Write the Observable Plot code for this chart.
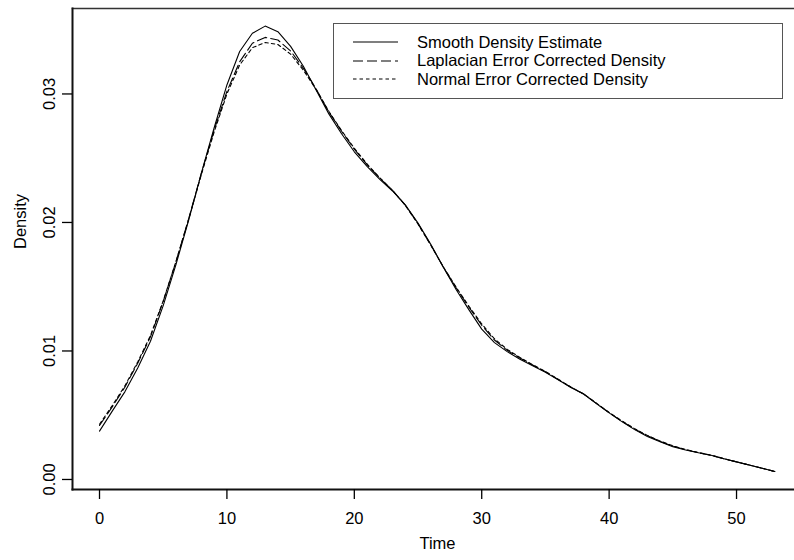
<!DOCTYPE html>
<html><head><meta charset="utf-8">
<script src="https://cdn.jsdelivr.net/npm/d3@7"></script>
<script src="https://cdn.jsdelivr.net/npm/@observablehq/plot@0.6"></script>
<style>
body{margin:0;background:#fff;}
#wrap{position:relative;width:794px;height:560px;overflow:hidden;font-family:"Liberation Sans",Arial,sans-serif;}
#legend{position:absolute;left:333px;top:23px;width:450px;height:76px;box-sizing:border-box;border:1.5px solid #555;padding:9px 0 0 19px;font-size:16.5px;color:#000;background:#fff;}
.row{display:flex;align-items:center;height:18.5px;white-space:nowrap;}
.row svg{margin-right:19px;flex:none;}
</style></head>
<body><div id="wrap"></div>
<script>
const time = [0,1,2,3,4,5,6,7,8,9,10,11,12,13,14,15,16,17,18,19,20,21,22,23,24,25,26,27,28,29,30,31,32,33,34,35,36,37,38,39,40,41,42,43,44,45,46,47,48,49,50,51,52,53];
const smooth = [0.00376,0.00532,0.00684,0.00868,0.01076,0.01353,0.01672,0.02019,0.02386,0.02737,0.03070,0.03330,0.03472,0.03528,0.03485,0.03370,0.03215,0.03030,0.02845,0.02690,0.02550,0.02436,0.02335,0.02245,0.02137,0.01995,0.01830,0.01650,0.01477,0.01320,0.01170,0.01065,0.00995,0.00935,0.00885,0.00835,0.00775,0.00715,0.00665,0.00590,0.00518,0.00450,0.00388,0.00335,0.00293,0.00255,0.00230,0.00208,0.00188,0.00162,0.00137,0.00112,0.00088,0.00062];
const laplacian = [0.00420,0.00565,0.00720,0.00905,0.01110,0.01385,0.01695,0.02030,0.02385,0.02720,0.03020,0.03250,0.03395,0.03440,0.03420,0.03335,0.03200,0.03040,0.02860,0.02710,0.02570,0.02450,0.02345,0.02250,0.02135,0.01990,0.01825,0.01650,0.01490,0.01340,0.01200,0.01085,0.01005,0.00945,0.00890,0.00838,0.00778,0.00718,0.00665,0.00592,0.00520,0.00453,0.00392,0.00340,0.00297,0.00260,0.00232,0.00209,0.00188,0.00162,0.00137,0.00112,0.00088,0.00062];
const normal = [0.00430,0.00575,0.00730,0.00915,0.01120,0.01390,0.01695,0.02025,0.02375,0.02705,0.03000,0.03225,0.03360,0.03400,0.03385,0.03310,0.03185,0.03035,0.02865,0.02715,0.02578,0.02455,0.02348,0.02250,0.02133,0.01988,0.01823,0.01652,0.01495,0.01348,0.01210,0.01095,0.01012,0.00950,0.00893,0.00840,0.00780,0.00720,0.00665,0.00594,0.00522,0.00456,0.00395,0.00343,0.00299,0.00262,0.00234,0.00210,0.00189,0.00163,0.00137,0.00112,0.00088,0.00062];
const seriesNames = ["Smooth Density Estimate","Laplacian Error Corrected Density","Normal Error Corrected Density"];
const seriesDash = [null,"10,4","3.5,3"];
const xTicks = [0,10,20,30,40,50];
const yTicks = [0,0.01,0.02,0.03];

const toRows = vals => time.map((t,i)=>({t, d: vals[i]}));
const allSeries = [smooth, laplacian, normal];

const chart = Plot.plot({
  width:794, height:560,
  marginLeft:72, marginRight:0, marginTop:8, marginBottom:71,
  x:{domain:[-2.12,54.55]},
  y:{domain:[-0.00078,0.03665]},
  style:{fontFamily:'"Liberation Sans",Arial,sans-serif', fontSize:"16.5px", background:"white", color:"black"},
  marks:[
    Plot.frame({anchor:"top", stroke:"#333", strokeWidth:1.5}),
    Plot.frame({anchor:"left", stroke:"#111", strokeWidth:2}),
    Plot.frame({anchor:"bottom", stroke:"#111", strokeWidth:2}),
    Plot.axisX({ticks:xTicks, tickSize:10, tickPadding:13, label:null, strokeWidth:1.3}),
    Plot.axisY({ticks:yTicks, tickFormat:d=>d.toFixed(2), tickSize:10, tickRotate:-90, tickPadding:8, label:null, strokeWidth:1.3}),
    ...allSeries.map((vals,i)=>Plot.line(toRows(vals),{x:"t", y:"d", stroke:"black", strokeWidth:1.1, strokeDasharray:seriesDash[i] ?? undefined})),
    Plot.text(["Density"],{frameAnchor:"left", dx:-52, rotate:-90}),
    Plot.text(["Time"],{frameAnchor:"bottom", dx:4, dy:59})
  ]
});
const wrap = document.getElementById("wrap");
wrap.appendChild(chart);

const legend = document.createElement("div");
legend.id = "legend";
seriesNames.forEach((name,i)=>{
  const row = document.createElement("div");
  row.className = "row";
  const dash = seriesDash[i] ? ` stroke-dasharray="${seriesDash[i]}"` : "";
  row.innerHTML = `<svg width="45" height="10"><line x1="0" y1="5" x2="45" y2="5" stroke="black" stroke-width="1.1"${dash}/></svg><span>${name}</span>`;
  legend.appendChild(row);
});
wrap.appendChild(legend);
</script>
</body></html>
